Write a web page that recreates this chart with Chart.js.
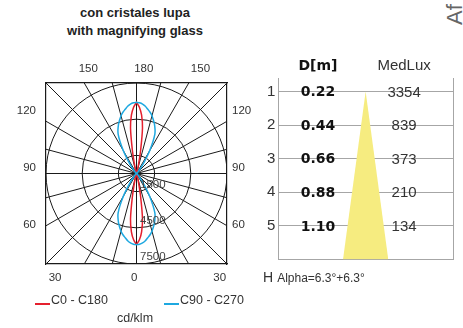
<!DOCTYPE html>
<html>
<head>
<meta charset="utf-8">
<script src="https://cdn.jsdelivr.net/npm/chart.js@4.4.0/dist/chart.umd.min.js"></script>
<style>
  body { margin: 0; width: 463px; height: 328px; background: #fff; position: relative; overflow: hidden;
         font-family: "Liberation Sans", Arial, sans-serif; color: #333; }
  #title { position: absolute; left: 35px; top: 4px; width: 200px; text-align: center;
           font-weight: bold; font-size: 13px; line-height: 18px; color: #222; }
  #side { position: absolute; left: 444px; top: 25px; transform-origin: left top; transform: rotate(-90deg);
          font-size: 22px; line-height: 22px; color: #666; white-space: nowrap; }
  #polar { position: absolute; left: 0; top: 50px; }
  #table { position: absolute; left: 255px; top: 50px; }
  #alpha { position: absolute; left: 263px; top: 269px; display: flex; align-items: baseline; white-space: nowrap; }
  #alpha .h { font-size: 14px; margin-right: 4px; }
  #alpha .a { font-size: 12px; }
  .leg { position: absolute; font-size: 12.5px; line-height: 14px; }
  .mark { position: absolute; width: 15px; height: 2px; }
</style>
</head>
<body>
<div id="title">con cristales lupa<br>with magnifying glass</div>
<div id="side">Af</div>
<canvas id="polar" width="262" height="245"></canvas>
<canvas id="table" width="208" height="240"></canvas>
<div id="alpha"><span class="h">H</span><span class="a">Alpha=6.3°+6.3°</span></div>
<div class="mark" style="left:35px;top:303px;background:#e5202e"></div>
<div class="leg" style="left:51px;top:293px">C0 - C180</div>
<div class="mark" style="left:164px;top:303px;background:#1ea8e0"></div>
<div class="leg" style="left:180px;top:293px">C90 - C270</div>
<div class="leg" style="left:85px;top:311px;width:100px;text-align:center">cd/klm</div>
<script>
// intensity (cd/klm) by angle from nadir: 0 = down, 180 = up
const angles  = [0, 2.5, 5, 7.5, 10, 12.5, 15, 20, 25, 30, 35, 40, 45, 50, 60, 70, 80, 90,
                 100, 110, 120, 130, 135, 140, 145, 150, 155, 160, 165, 167.5, 170, 172.5, 175, 177.5, 180];
const c0c180  = [5900, 5500, 4850, 3800, 2000, 800, 300, 100, 50, 30, 20, 15, 10, 5, 0, 0, 0, 0,
                 0, 0, 0, 5, 10, 15, 20, 30, 50, 100, 300, 800, 2000, 3800, 4850, 5500, 5900];
const c90c270 = [5900, 5870, 5780, 5620, 5400, 5200, 4950, 4350, 3600, 2200, 950, 350, 150, 60, 15, 5, 0, 0,
                 0, 5, 15, 60, 150, 350, 950, 2200, 3600, 4350, 4950, 5200, 5400, 5620, 5780, 5870, 5900];
const rings = [1500, 4500, 7500];
const maxCd = 7500;

// angle labels round the box
const topLabels = ['150', '180', '150'];
const topPos = [-4000, 600, 5300];
const sideLabels = ['120', '90', '60'];
const sidePos = [5200, 450, -4250];
const bottomLabels = ['30', '0', '30'];
const bottomPos = [-6750, -200, 6900];

// table
const rows = [1, 2, 3, 4, 5];
const distances = ['0.22', '0.44', '0.66', '0.88', '1.10'];
const medLux = [3354, 839, 373, 210, 134];
const alpha = 6.3;

function curve(vals) {
  const pts = [];
  angles.forEach((a, i) => {
    const t = a * Math.PI / 180;
    pts.push({x: vals[i] * Math.sin(t), y: -vals[i] * Math.cos(t)});
  });
  for (let i = angles.length - 1; i >= 0; i--) {
    const t = angles[i] * Math.PI / 180;
    pts.push({x: -vals[i] * Math.sin(t), y: -vals[i] * Math.cos(t)});
  }
  return pts;
}

const polarGrid = {
  id: 'polarGrid',
  beforeDatasetsDraw(chart) {
    const {ctx, chartArea: a, scales: {x, y}} = chart;
    const cx = x.getPixelForValue(0), cy = y.getPixelForValue(0);
    ctx.save();
    ctx.beginPath();
    ctx.rect(a.left, a.top, a.right - a.left, a.bottom - a.top);
    ctx.clip();
    ctx.strokeStyle = '#1a1a1a';
    ctx.lineWidth = 1;
    rings.forEach(r => {
      ctx.beginPath();
      ctx.arc(cx, cy, x.getPixelForValue(r) - cx, 0, 2 * Math.PI);
      ctx.stroke();
    });
    for (let d = 0; d < 360; d += 15) {
      const t = d * Math.PI / 180;
      ctx.beginPath();
      ctx.moveTo(cx, cy);
      ctx.lineTo(cx + 400 * Math.sin(t), cy + 400 * Math.cos(t));
      ctx.stroke();
    }
    ctx.restore();
  },
  afterDatasetsDraw(chart) {
    const {ctx, scales: {x, y}} = chart;
    const cx = x.getPixelForValue(0);
    ctx.save();
    ctx.font = '11.5px "Liberation Sans"';
    ctx.fillStyle = '#444';
    rings.forEach(r => ctx.fillText(String(r), cx + 3.5, y.getPixelForValue(-r) - 4));
    ctx.restore();
  }
};

function fixed(pos, labels, size, horiz) {
  return {
    afterBuildTicks: s => { s.ticks = pos.map(v => ({value: v})); },
    afterFit: s => { if (horiz) s.height = size; else s.width = size; },
  };
}

const tickFont = {family: 'Liberation Sans', size: 11.5};
const border = {display: true, color: '#1a1a1a', width: 1.2};
function axis(position, pos, labels, size, pad) {
  const horiz = position === 'top' || position === 'bottom';
  return Object.assign({
    type: 'linear', position: position, min: -maxCd, max: maxCd,
    grid: {display: false, drawTicks: false}, border: border,
    ticks: {font: tickFont, color: '#333', padding: pad, autoSkip: false, maxRotation: 0,
            callback: (v, i) => labels[i]}
  }, fixed(pos, labels, size, horiz));
}

new Chart(document.getElementById('polar'), {
  type: 'scatter',
  data: {
    datasets: [
      {label: 'C90 - C270', data: curve(c90c270), borderColor: '#1ea8e0'},
      {label: 'C0 - C180', data: curve(c0c180), borderColor: '#e5202e'},
    ].map(d => Object.assign(d, {showLine: true, pointRadius: 0, borderWidth: 1.5, tension: 0.3, fill: false}))
  },
  options: {
    responsive: false, animation: false, devicePixelRatio: 1,
    layout: {padding: 0},
    plugins: {legend: {display: false}, tooltip: {enabled: false}},
    scales: {
      x: axis('bottom', bottomPos, bottomLabels, 31, 7),
      x2: axis('top', topPos, topLabels, 33, 7),
      y: axis('left', sidePos, sideLabels, 46, 10),
      y2: axis('right', sidePos, sideLabels, 35, 5),
    }
  },
  plugins: [polarGrid]
});

// light cone: widens with alpha from row 1 to bottom of table
const bottomRow = rows.length + 1;
const spread = Math.tan(alpha * Math.PI / 180) * (bottomRow - rows[0]);
const cone = [{x: -spread, y: bottomRow}, {x: 0, y: rows[0]}, {x: spread, y: bottomRow}];

const tableText = {
  id: 'tableText',
  afterDatasetsDraw(chart) {
    const {ctx, chartArea: a, scales: {y}} = chart;
    const w = a.right - a.left;
    const dx = a.left + w * 0.227, lx = a.left + w * 0.72;
    ctx.save();
    ctx.textAlign = 'center';
    ctx.textBaseline = 'middle';
    ctx.font = 'bold 14px "DejaVu Sans"';
    ctx.fillStyle = '#111';
    ctx.fillText('D[m]', dx, a.top - 12);
    ctx.font = '15px "Liberation Sans"';
    ctx.fillStyle = '#333';
    ctx.fillText('MedLux', lx, a.top - 12);
    rows.forEach((r, i) => {
      const py = y.getPixelForValue(r) + 1;
      ctx.font = 'bold 14px "DejaVu Sans"';
      ctx.fillStyle = '#111';
      ctx.fillText(distances[i], dx, py);
      ctx.font = '15px "Liberation Sans"';
      ctx.fillStyle = '#333';
      ctx.fillText(String(medLux[i]), lx, py);
    });
    ctx.restore();
  }
};

const gray = {display: true, color: '#a6a6a6', width: 1};
new Chart(document.getElementById('table'), {
  type: 'line',
  data: {
    datasets: [{data: cone, fill: {value: bottomRow}, backgroundColor: '#f6ec80',
                borderWidth: 0, pointRadius: 0, tension: 0}]
  },
  options: {
    responsive: false, animation: false, devicePixelRatio: 1,
    layout: {padding: {top: 28, right: 10, bottom: 30.5, left: 0}},
    plugins: {legend: {display: false}, tooltip: {enabled: false}},
    scales: {
      x: {type: 'linear', min: -2.13, max: 2.13, grid: {display: false, drawTicks: false},
          ticks: {display: false}, border: gray, afterFit: s => { s.height = 0; }},
      y: {type: 'linear', reverse: true, min: 0.6, max: bottomRow, z: 1,
          grid: {color: '#a6a6a6', drawTicks: false}, border: gray,
          ticks: {font: {family: 'Liberation Sans', size: 15}, color: '#333', padding: 3},
          afterBuildTicks: s => { s.ticks = rows.map(v => ({value: v})); },
          afterFit: s => { s.width = 23.3; }},
      y2: {type: 'linear', position: 'right', min: 0.6, max: bottomRow, grid: {display: false, drawTicks: false},
           ticks: {display: false}, border: gray, afterFit: s => { s.width = 0; }},
    }
  },
  plugins: [tableText]
});
</script>
</body>
</html>
